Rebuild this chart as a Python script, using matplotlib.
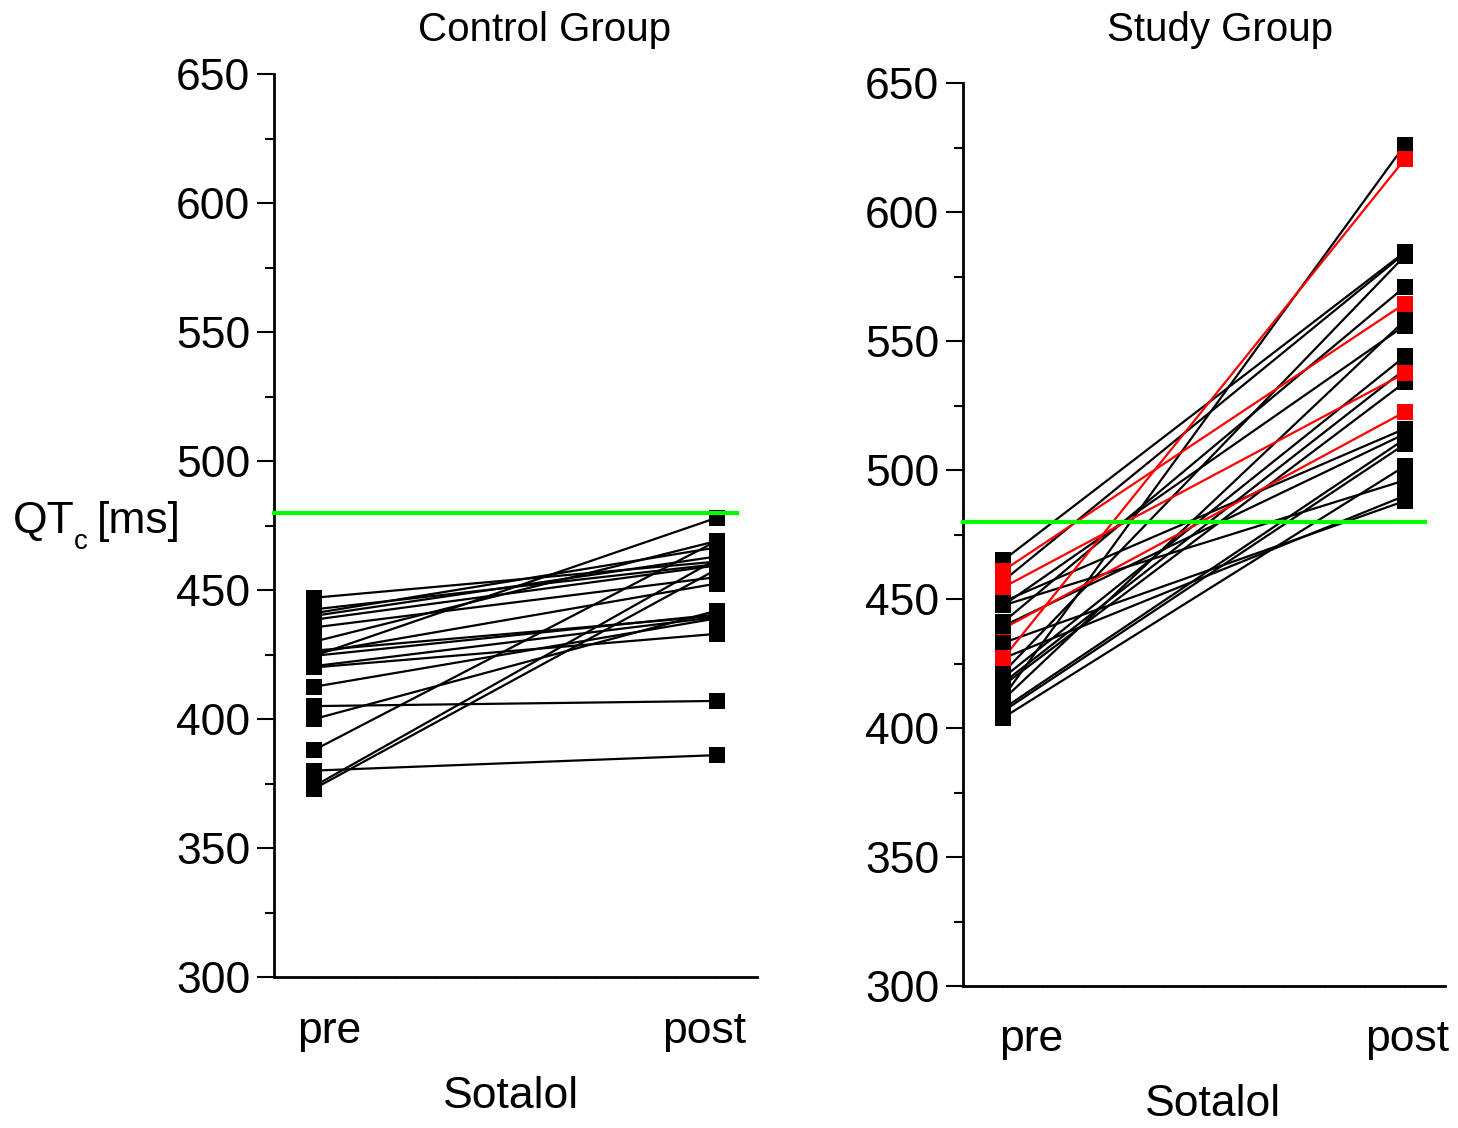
import matplotlib
matplotlib.use("Agg")
import matplotlib.pyplot as plt
import numpy as np

plt.rcParams['font.family'] = ['Liberation Sans', 'DejaVu Sans']

# QTc values (ms), one entry per patient: pre / post sotalol
ctrl_pre  = [447, 442.5, 441, 440, 438.5, 435.5, 430, 426.5, 425.5, 424.5,
             424.5, 420.5, 420, 412.5, 405, 400, 388, 380, 374, 373]
ctrl_post = [461, 460, 466.5, 463, 459.5, 455, 469, 440, 452.5, 478,
             440.5, 439.5, 433, 439, 407, 442, 469, 386, 462, 458]

study_pre  = [465, 457, 449, 447.5, 447.5, 441, 439.5, 433, 427, 421.5,
              419.5, 417.5, 416.5, 412, 411, 407.5, 406.5, 404]
study_post = [584.5, 584, 516, 556, 496, 571, 514, 488, 490, 583,
              544, 539, 534, 626, 558, 512, 510, 501.5]

# highlighted patients (red) in the study group
red_pre  = [461, 454.5, 438.5, 427]
red_post = [564.5, 537.5, 522.5, 620.5]

threshold = 480
x_pre, x_post = 1, 2

W, H = 1458, 1128
fig = plt.figure(figsize=(W / 100, H / 100), dpi=100)

def px(x, y):
    return x / W, 1 - y / H

ax1 = fig.add_axes([274 / W, 1 - 977 / H, 483 / W, 903 / H])
ax2 = fig.add_axes([963 / W, 1 - 986 / H, 482 / W, 903 / H])

ms = 12
lw = 1.6
for a, b in zip(ctrl_pre, ctrl_post):
    ax1.plot([x_pre, x_post], [a, b], color='black', lw=lw, zorder=2)
ax1.plot([x_pre] * len(ctrl_pre), ctrl_pre, 's', color='black', ms=ms, mew=0, zorder=3)
ax1.plot([x_post] * len(ctrl_post), ctrl_post, 's', color='black', ms=ms, mew=0, zorder=3)

for a, b in zip(study_pre, study_post):
    ax2.plot([x_pre, x_post], [a, b], color='black', lw=lw, zorder=2)
for a, b in zip(red_pre, red_post):
    ax2.plot([x_pre, x_post], [a, b], color='#ff0000', lw=lw, zorder=2.5)
ax2.plot([x_pre] * len(study_pre), study_pre, 's', color='black', ms=ms, mew=0, zorder=3)
ax2.plot([x_post] * len(study_post), study_post, 's', color='black', ms=ms, mew=0, zorder=3)
# the third red marker sits under the black ones on the pre side
ax2.plot([x_pre] * 2, [red_pre[0], red_pre[1]], 's', color='#ff0000', ms=ms, mew=0, zorder=4)
ax2.plot([x_pre], [red_pre[3]], 's', color='#ff0000', ms=ms, mew=0, zorder=4)
ax2.plot([x_pre], [red_pre[2]], 's', color='#ff0000', ms=ms, mew=0, zorder=2.8)
ax2.plot([x_post] * len(red_post), red_post, 's', color='#ff0000', ms=ms, mew=0, zorder=4)

for ax in (ax1, ax2):
    ax.plot([0.9, 2.05], [threshold, threshold], color='#00ff00', lw=3, zorder=5, clip_on=False)
    ax.set_xlim(0.9, 2.1)
    ax.set_ylim(300, 650)
    ax.spines['top'].set_visible(False)
    ax.spines['right'].set_visible(False)
    ax.spines['left'].set_linewidth(2)
    ax.spines['bottom'].set_linewidth(2)
    ax.set_yticks(np.arange(300, 651, 50))
    ax.set_yticks(np.arange(325, 651, 50), minor=True)
    ax.set_xticks(np.arange(1, 2.01, 0.1))
    ax.set_xticklabels([])
    ax.tick_params(axis='y', which='major', length=12, width=1.5, pad=5, labelsize=32)
    ax.tick_params(axis='y', which='minor', length=6.5, width=1.5)
    ax.tick_params(axis='x', which='major', length=1.5, width=1.2)
    ax.patch.set_visible(False)

fs = 32
fig.text(*px(545, 30), 'Control Group', ha='center', va='center', fontsize=29)
fig.text(*px(1220, 30), 'Study Group', ha='center', va='center', fontsize=29)
fig.text(*px(329, 1032), 'pre', ha='center', va='center', fontsize=fs)
fig.text(*px(704, 1032), 'post', ha='center', va='center', fontsize=fs)
fig.text(*px(1031, 1040), 'pre', ha='center', va='center', fontsize=fs)
fig.text(*px(1407, 1040), 'post', ha='center', va='center', fontsize=fs)
fig.text(*px(511, 1097), 'Sotalol', ha='center', va='center', fontsize=fs)
fig.text(*px(1213, 1105), 'Sotalol', ha='center', va='center', fontsize=fs)
# y label: QT with a dropped subscript c, then [ms]
fig.text(*px(13, 533), 'QT', ha='left', va='baseline', fontsize=fs)
fig.text(*px(74, 549), 'c', ha='left', va='baseline', fontsize=20)
fig.text(*px(181, 533), '[ms]', ha='right', va='baseline', fontsize=fs)

fig.savefig('out.png', dpi=100)
